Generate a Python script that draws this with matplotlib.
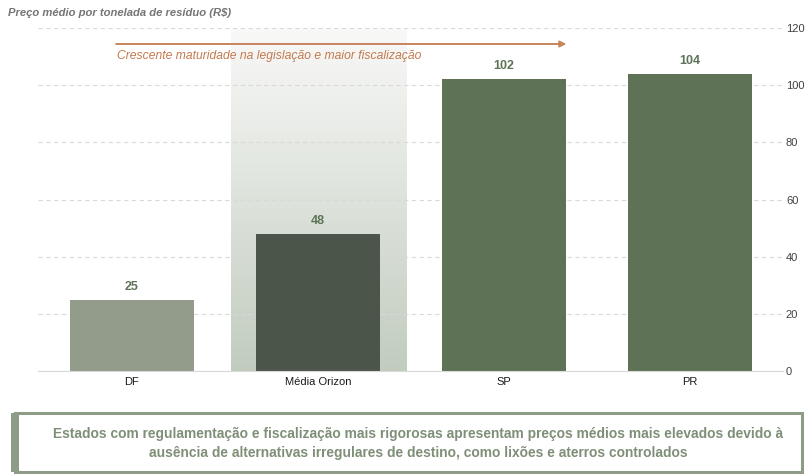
import matplotlib.pyplot as plt
import numpy as np
from matplotlib.patches import Rectangle

plt.rcParams['font.family'] = ['Liberation Sans', 'DejaVu Sans']

categorias = ['DF', 'Média Orizon', 'SP', 'PR']
precos = [25, 48, 102, 104]
cores = ['#939C8A', '#4B5549', '#5E7356', '#5E7356']
yticks = [0, 20, 40, 60, 80, 100, 120]

titulo = 'Preço médio por tonelada de resíduo (R$)'
seta_txt = 'Crescente maturidade na legislação e maior fiscalização'
nota = ('Estados com regulamentação e fiscalização mais rigorosas apresentam preços médios mais elevados devido à\n'
        'ausência de alternativas irregulares de destino, como lixões e aterros controlados')

fig = plt.figure(figsize=(8.09, 4.74), dpi=100)
ax = fig.add_axes([0.047, 0.217, 0.921, 0.724])

x = np.arange(len(categorias))

# faixa em degradê atrás da média Orizon
grad = np.linspace(0, 1, 256).reshape(-1, 1)
c_top = np.array([0.975, 0.975, 0.97])
c_bot = np.array([0.76, 0.80, 0.75])
img = c_bot + (c_top - c_bot) * grad
ax.imshow(img[:, None, :].repeat(2, axis=1), extent=(1 - 0.47, 1 + 0.475, 0, 119.5),
          origin='lower', aspect='auto', zorder=0.5)

ax.bar(x, precos, width=0.667, color=cores, zorder=2)
for xi, v in zip(x, precos):
    ax.annotate(str(v), (xi, v), xytext=(0, 5), textcoords='offset points',
                ha='center', va='bottom', fontsize=9, fontweight='bold', color='#5E7358')

ax.set_xlim(-0.505, 3.5)
ax.set_ylim(0, 120)
ax.set_yticks(yticks)
ax.set_xticks(x)
ax.set_xticklabels(categorias, fontsize=8, color='#1a1a1a')
ax.yaxis.tick_right()
ax.tick_params(axis='y', length=0, pad=2, labelsize=8, labelcolor='#404040')
ax.tick_params(axis='x', length=0, pad=4)
ax.grid(axis='y', color='#D9D9D9', linestyle=(0, (4, 3)), linewidth=0.8, zorder=0)
for s in ['top', 'left', 'right']:
    ax.spines[s].set_visible(False)
ax.spines['bottom'].set_color('#D9D9D9')
ax.spines['bottom'].set_zorder(3)
ax.set_facecolor('none')

# seta
ax.annotate('', xy=(2.35, 114.4), xytext=(-0.10, 114.4),
            arrowprops=dict(arrowstyle='-|>', color='#C6855B', lw=1.4, mutation_scale=9))
ax.text(-0.08, 110.3, seta_txt, fontsize=8.7, style='italic', color='#C27A4E', va='center', ha='left')

fig.text(0.010, 0.972, titulo, fontsize=8.1, style='italic', fontweight='bold', color='#757575',
         va='center', ha='left')

# caixa de nota
fig.patches.append(Rectangle((0.018, 0.004), 0.973, 0.124, transform=fig.transFigure,
                             facecolor='white', edgecolor='#8E9B86', linewidth=2.2))
fig.patches.append(Rectangle((0.014, 0.004), 0.010, 0.124, transform=fig.transFigure,
                             facecolor='#8E9B86', edgecolor='none'))
fig.text(0.517, 0.064, nota, fontsize=9.9, fontweight='bold', color='#7F8F77',
         ha='center', va='center', linespacing=1.45)

fig.savefig('out.png', dpi=100)
